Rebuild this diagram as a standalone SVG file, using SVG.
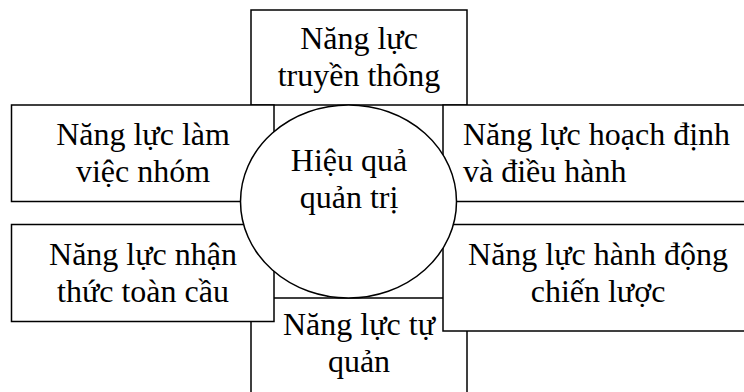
<svg xmlns="http://www.w3.org/2000/svg" width="744" height="392" viewBox="0 0 744 392">
<style>
.box{fill:#fff;stroke:#000;stroke-width:1.5}
.t{font-family:"Liberation Serif","Times New Roman",serif;font-size:32px;fill:#000}
.c{text-anchor:middle}
</style>
<rect width="744" height="392" fill="#fff"/>
<g id="top">
<rect class="box" x="251" y="10" width="216" height="95"/>
<text class="t c" x="359" y="49">Năng lực</text>
<text class="t c" x="359" y="86">truyền thông</text>
</g>
<g id="bottom">
<rect class="box" x="251" y="298" width="216" height="110"/>
<text class="t c" x="359" y="335">Năng lực tự</text>
<text class="t c" x="359" y="372">quản</text>
</g>
<g id="left-top">
<rect class="box" x="11.5" y="105" width="262.5" height="96.5"/>
<text class="t c" x="143" y="145">Năng lực làm</text>
<text class="t c" x="143" y="182">việc nhóm</text>
</g>
<g id="right-top">
<rect class="box" x="443" y="105" width="320" height="96.5"/>
<text class="t" x="463" y="145">Năng lực hoạch định</text>
<text class="t" x="463" y="182">và điều hành</text>
</g>
<g id="left-bottom">
<rect class="box" x="11.5" y="224.5" width="262.5" height="97"/>
<text class="t c" x="143" y="265">Năng lực nhận</text>
<text class="t c" x="143" y="302">thức toàn cầu</text>
</g>
<g id="right-bottom">
<rect class="box" x="443" y="224.5" width="320" height="106.5"/>
<text class="t c" x="598" y="265">Năng lực hành động</text>
<text class="t c" x="598" y="302">chiến lược</text>
</g>
<g id="center">
<ellipse class="box" cx="348.5" cy="201.5" rx="108" ry="96.5"/>
<text class="t c" x="349" y="171">Hiệu quả</text>
<text class="t c" x="349" y="208">quản trị</text>
</g>
</svg>
